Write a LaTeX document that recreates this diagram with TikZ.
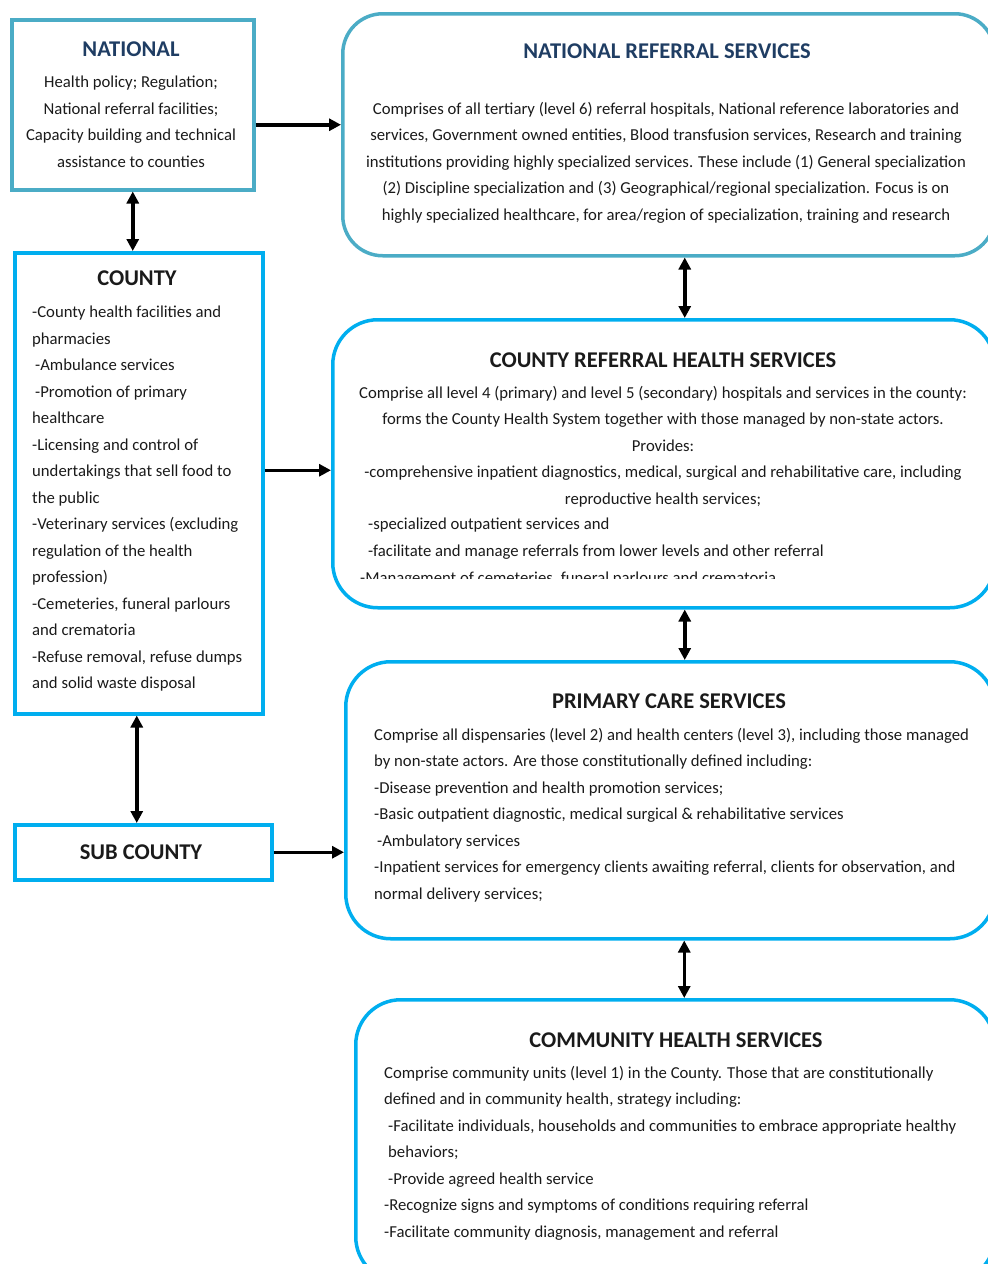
\documentclass[tikz,border=0pt]{standalone}
\usepackage{fontspec}
\setmainfont{Carlito}
\usetikzlibrary{positioning,arrows.meta}
\definecolor{natline}{HTML}{4BACC6}
\definecolor{ctyline}{HTML}{00AEEF}
\definecolor{titleblue}{HTML}{1F3D63}
\definecolor{ink}{HTML}{1A1A1A}

\begin{document}
\begin{tikzpicture}[x=1pt,y=-1pt,
    natbox/.style={rectangle,draw=natline,line width=3.5pt,anchor=north west,inner sep=0pt},
    ctybox/.style={rectangle,draw=ctyline,line width=3.5pt,anchor=north west,inner sep=0pt},
    title/.style={inner sep=0pt,font=\fontsize{22.5}{25}\selectfont\bfseries,text=ink},
    body/.style={inner sep=0pt,font=\fontsize{16.7}{26.5}\selectfont,text=ink},
    link/.style={-{Triangle[length=12pt,width=12pt]},line width=3.5pt},
    dlink/.style={{Triangle[length=12pt,width=12pt]}-{Triangle[length=12pt,width=12pt]},line width=3.5pt}]
    \useasboundingbox (0,0) rectangle (988,1264);
    \clip (0,0) rectangle (988,1264);

    % National
    \node[natbox,minimum width=242pt,minimum height=170pt] (nat) at (10,18) {};
    \node[title,text=titleblue] (natT) at (131,49) {NATIONAL};
    \node[body,align=center,anchor=north] (natB) at (131,76) {Health policy; Regulation;\\National referral facilities;\\Capacity building and technical\\assistance to counties};

    % National referral services
    \node[natbox,rounded corners=40pt,minimum width=652pt,minimum height=242pt] (nref) at (341,12) {};
    \node[title,text=titleblue] (nrefT) at (667,51) {NATIONAL REFERRAL SERVICES};
    \node[body,align=center,anchor=north] (nrefB) at (666,102) {Comprises of all tertiary (level 6) referral hospitals, National reference laboratories and\\services, Government owned entities, Blood transfusion services, Research and training\\institutions providing highly specialized services. These include (1) General specialization\\(2) Discipline specialization and (3) Geographical/regional specialization. Focus is on\\highly specialized healthcare, for area/region of specialization, training and research};

    % County
    \node[ctybox,minimum width=248pt,minimum height=461pt] (cty) at (13,251) {};
    \node[title] (ctyT) at (137,278) {COUNTY};
    \node[body,align=left,anchor=north west] (ctyB) at (32,306) {-County health facilities and\\pharmacies\\\hspace{3pt}-Ambulance services\\\hspace{3pt}-Promotion of primary\\healthcare\\-Licensing and control of\\undertakings that sell food to\\the public\\-Veterinary services (excluding\\regulation of the health\\profession)\\-Cemeteries, funeral parlours\\and crematoria\\-Refuse removal, refuse dumps\\and solid waste disposal};

    % County referral health services
    \node[ctybox,rounded corners=45pt,minimum width=662pt,minimum height=288pt] (cref) at (331,318) {};
    \node[title] (crefT) at (663,360) {COUNTY REFERRAL HEALTH SERVICES};
    \node[body,align=center,anchor=north] (crefB) at (663,386) {Comprise all level 4 (primary) and level 5 (secondary) hospitals and services in the county:\\forms the County Health System together with those managed by non-state actors.\\Provides:\\-comprehensive inpatient diagnostics, medical, surgical and rehabilitative care, including\\reproductive health services;};
    \node[body,align=left,anchor=north west] (crefL) at (368,518) {-specialized outpatient services and\\-facilitate and manage referrals from lower levels and other referral};
    \begin{scope}
        \clip (340,560) rectangle (980,578.5);
        \node[body,anchor=north west] (crefM) at (360,572) {-Management of cemeteries, funeral parlours and crematoria};
    \end{scope}

    % Sub county
    \node[ctybox,minimum width=257pt,minimum height=55pt] (sub) at (13,823) {};
    \node[title] (subT) at (141,852) {SUB COUNTY};

    % Primary care services
    \node[ctybox,rounded corners=45pt,minimum width=649pt,minimum height=277pt] (prim) at (344,660) {};
    \node[title] (primT) at (669,701) {PRIMARY CARE SERVICES};
    \node[body,align=left,anchor=north west] (primB) at (374,728) {Comprise all dispensaries (level 2) and health centers (level 3), including those managed\\by non-state actors. Are those constitutionally defined including:\\-Disease prevention and health promotion services;\\-Basic outpatient diagnostic, medical surgical \& rehabilitative services\\\hspace{3pt}-Ambulatory services\\-Inpatient services for emergency clients awaiting referral, clients for observation, and\\normal delivery services;};

    % Community health services
    \node[ctybox,rounded corners=45pt,minimum width=639pt,minimum height=282pt] (comm) at (354,998) {};
    \node[title] (commT) at (676,1040) {COMMUNITY HEALTH SERVICES};
    \node[body,align=left,anchor=north west] (commB) at (384,1066) {Comprise community units (level 1) in the County. Those that are constitutionally\\defined and in community health, strategy including:\\\hspace{4pt}-Facilitate individuals, households and communities to embrace appropriate healthy\\\hspace{4pt}behaviors;\\\hspace{4pt}-Provide agreed health service\\-Recognize signs and symptoms of conditions requiring referral\\-Facilitate community diagnosis, management and referral};

    % Arrows
    \draw[link] ([yshift=-20pt]nat.east) -- ([yshift=-20pt]nat.east -| nref.west);
    \draw[dlink] (nat.south) -- (nat.south |- cty.north);
    \draw[dlink] ([xshift=16pt]nref.south) -- ([xshift=16pt]nref.south |- cref.north);
    \draw[link] ([yshift=13pt]cty.east) -- ([yshift=13pt]cty.east -| cref.west);
    \draw[dlink] ([xshift=-2pt]cty.south) -- ([xshift=-2pt]cty.south |- sub.north);
    \draw[link] (sub.east) -- (sub.east -| prim.west);
    \draw[dlink] ([xshift=21pt]cref.south) -- ([xshift=21pt]cref.south |- prim.north);
    \draw[dlink] ([xshift=14pt]prim.south) -- ([xshift=14pt]prim.south |- comm.north);
\end{tikzpicture}
\end{document}
